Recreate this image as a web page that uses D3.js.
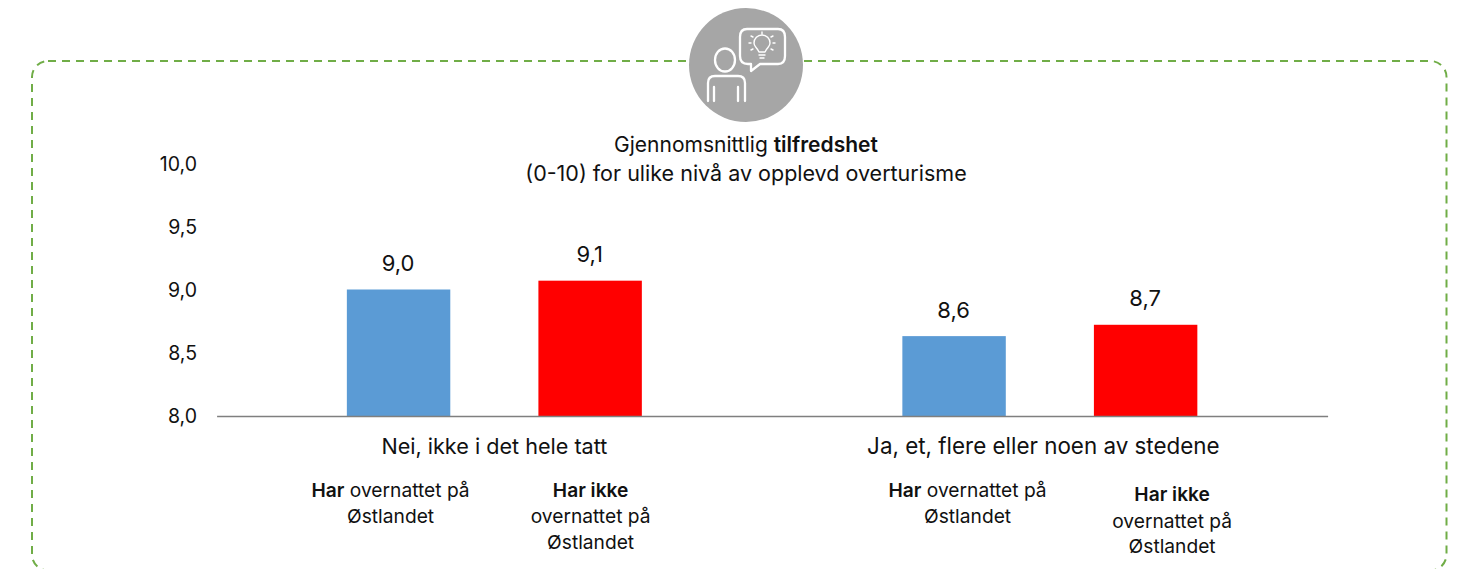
<!DOCTYPE html>
<html><head><meta charset="utf-8">
<script src="https://cdn.jsdelivr.net/npm/d3@7/dist/d3.min.js"></script>
<style>html,body{margin:0;padding:0;background:#fff;overflow:hidden}svg{display:block}text{font-family:Inter,"Liberation Sans",sans-serif;fill:#111}</style>
</head><body><svg id="c" width="1458" height="569"></svg>
<script>
const categories = ["Nei, ikke i det hele tatt", "Ja, et, flere eller noen av stedene"];
const seriesNames = ["Har", "Har ikke"];
const har = [9.0, 8.63];
const harIkke = [9.07, 8.72];
const yTicks = [8, 8.5, 9, 9.5, 10];
const colors = ["#5B9BD5", "#FF0000"];
const titleLines = [[["Gjennomsnittlig ",400],["tilfredshet",600]], [["(0-10) for ulike nivå av opplevd overturisme",400]]];
const subLabels = [
  [[["Har",600],[" overnattet på",400]], [["Østlandet",400]]],
  [[["Har ikke",600]], [["overnattet på",400]], [["Østlandet",400]]]
];
const svg = d3.select("#c");
const y = d3.scaleLinear().domain([8,10]).range([416,164]);
const x0 = d3.scaleBand().domain(categories).range([216.6,1327.6]);
const x1 = d3.scaleBand().domain(seriesNames).range([0,x0.bandwidth()]).paddingInner(0.46).paddingOuter(0.68);
const comma = d3.formatLocale({decimal:",",thousands:" ",grouping:[3],currency:["","kr"]}).format(".1f");

// frame
svg.append("rect").attr("x",32).attr("y",61).attr("width",1414.5).attr("height",509.5).attr("rx",16)
  .attr("fill","none").attr("stroke","#70AD47").attr("stroke-width",2).attr("stroke-dasharray","8 6");

// icon
const icon = svg.append("g");
icon.append("circle").attr("cx",746).attr("cy",65).attr("r",57).attr("fill","#A6A6A6");
const s = icon.append("g").attr("fill","none").attr("stroke","#fff").attr("stroke-width",2.3).attr("stroke-linecap","round").attr("stroke-linejoin","round");
s.append("path").attr("d","M747 29 Q740 29 740 37 V56 Q740 64 748 64 H751 V71 L760 64 H778 Q785 64 785 56 V37 Q785 29 778 29 Z");
s.append("ellipse").attr("cx",725).attr("cy",60).attr("rx",10).attr("ry",11.5);
s.append("path").attr("d","M708 101 V83 Q708 76 715 76 H738 Q745 76 745 83 V101");
s.append("path").attr("d","M714 87 V101 M738 87 V101");
const b = s.append("g").attr("stroke-width",1.4);
b.append("path").attr("d","M759 52 C757 47 754 47 754 43 A8 8 0 0 1 770 43 C770 47 767 47 765 52 Z M759 55 H765 M760 58 H764");
b.append("path").attr("d","M762 32 V34 M751 36 L753 37 M773 36 L771 37 M749 43 H751 M773 43 H775 M751 50 L753 49 M773 50 L771 49");

// title
titleLines.forEach((ln,i)=>{
  const t = svg.append("text").attr("x",746).attr("y",[152,181][i]).attr("text-anchor","middle").attr("font-size",[21,21.5][i]);
  ln.forEach(r=>t.append("tspan").attr("font-weight",r[1]).text(r[0]));
});

// y axis labels
const yAxis = svg.append("g").attr("transform","translate(197,0)")
  .call(d3.axisLeft(y).tickValues(yTicks).tickSize(0).tickPadding(0).tickFormat(comma));
yAxis.select(".domain").remove();
yAxis.selectAll("text").attr("font-size",19.5).attr("fill","#111").style("font-family","Inter");

// bars
const rows = categories.map((c,i)=>[{c,s:seriesNames[0],v:har[i],k:0},{c,s:seriesNames[1],v:harIkke[i],k:1}]).flat();
svg.selectAll("rect.bar").data(rows).join("rect").attr("class","bar")
  .attr("x",d=>x0(d.c)+x1(d.s)).attr("width",x1.bandwidth())
  .attr("y",d=>y(d.v)-0.5).attr("height",d=>y(8)-y(d.v)+0.5).attr("fill",d=>colors[d.k]);
svg.selectAll("text.val").data(rows).join("text").attr("class","val")
  .attr("x",d=>x0(d.c)+x1(d.s)+x1.bandwidth()/2-0.5).attr("y",d=>y(d.v)-19)
  .attr("text-anchor","middle").attr("font-size",22).text(d=>comma(d.v));

// baseline
const xAxis = svg.append("g").attr("transform","translate(0,416)").call(d3.axisBottom(x0).tickSize(0).tickPadding(0).tickFormat(""));
xAxis.select(".domain").attr("stroke","#7F7F7F").attr("stroke-width",1.5);
const catShift = [0,-6.5];
const catSize = [21.6,22.4];
svg.selectAll("text.cat").data(categories).join("text").attr("class","cat")
  .attr("x",(d,i)=>x0(d)+x0.bandwidth()/2+catShift[i]).attr("y",454).attr("text-anchor","middle").attr("font-size",(d,i)=>catSize[i]).text(d=>d);

// sub labels (hand-placed text boxes in the original)
const subShift = [[-8,0.5],[13.5,26.5]];
const subBase = [[[497,523],[497,523,549]],[[497,523],[501,528,553]]];
categories.forEach((c,ci)=>{
  seriesNames.forEach((sn,si)=>{
    const cx = x0(c)+x1(sn)+x1.bandwidth()/2+subShift[ci][si];
    subLabels[si].forEach((ln,li)=>{
      const t = svg.append("text").attr("x",cx).attr("y",subBase[ci][si][li])
        .attr("text-anchor","middle").attr("font-size",19.2);
      ln.forEach(r=>t.append("tspan").attr("font-weight",r[1]).text(r[0]));
    });
  });
});
</script></body></html>
